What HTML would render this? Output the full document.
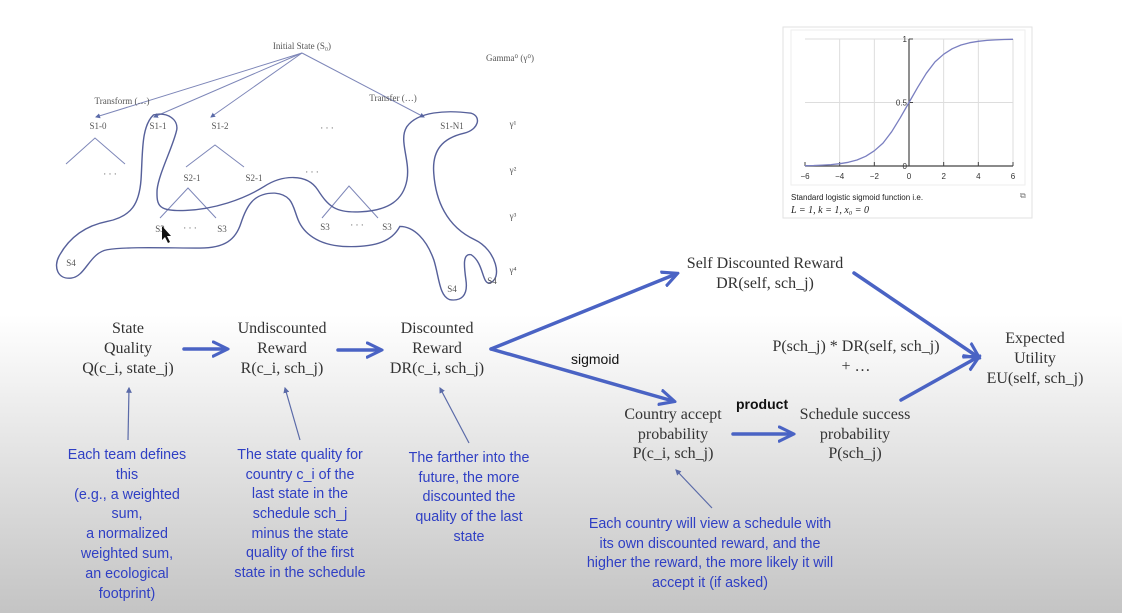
<!DOCTYPE html>
<html><head><meta charset="utf-8"><style>
html,body{margin:0;padding:0;width:1122px;height:613px;overflow:hidden}
body{background:linear-gradient(to bottom,#ffffff 0px,#ffffff 315px,#e4e4e4 450px,#c4c4c4 613px)}
svg{position:absolute;left:0;top:0}
.serif{font-family:"Liberation Serif",serif;fill:#333}
.blue{font-family:"Liberation Sans",sans-serif;fill:#2f3fc4;font-size:14.3px}
.tree{font-family:"Liberation Serif",serif;fill:#555;font-size:9px}
</style></head><body>
<svg width="1122" height="613" viewBox="0 0 1122 613">
<defs>
<marker id="ta" markerWidth="5" markerHeight="5" refX="4" refY="2.5" orient="auto"><path d="M0,0 L5,2.5 L0,5 Z" fill="#5a6aa8"/></marker>
<marker id="bh" markerWidth="5" markerHeight="5" refX="4" refY="2.5" orient="auto" markerUnits="strokeWidth"><path d="M0,0.3 L4.5,2.5 L0,4.7" fill="none" stroke="#4a63c4" stroke-width="0.9"/></marker>
</defs>

<g stroke="#7d86b8" stroke-width="1" fill="none">
<line x1="302" y1="53" x2="96" y2="117" marker-end="url(#ta)"/>
<line x1="302" y1="53" x2="154" y2="117" marker-end="url(#ta)"/>
<line x1="302" y1="53" x2="211" y2="117" marker-end="url(#ta)"/>
<line x1="302" y1="53" x2="424" y2="117" marker-end="url(#ta)"/>
<polyline points="66,164 95,138 125,164"/>
<polyline points="186,167 215,145 244,167"/>
<polyline points="160,218 188,188 216,218"/>
<polyline points="322,218 349,186 378,218"/>
<g transform="scale(0.357,0.333)" stroke="#56609a" stroke-width="4">
<path d="M430,345 C470,335 500,360 495,390 C485,440 445,520 440,570 C438,620 445,635 520,632 C600,628 680,600 740,560 C790,525 860,520 890,570 C920,620 940,640 1010,636 C1090,632 1130,600 1140,540 C1150,480 1115,420 1140,380 C1170,335 1250,330 1320,340 C1350,350 1340,390 1300,400 C1240,415 1210,450 1215,520 C1220,600 1250,680 1330,720 C1390,750 1410,840 1370,850 C1350,850 1355,790 1320,765 C1295,760 1300,800 1305,840 C1312,890 1290,905 1260,900 C1230,890 1230,830 1215,780 C1195,720 1160,680 1120,680 C1100,720 1060,745 960,740 C890,735 850,700 835,660 C820,620 820,585 770,580 C710,578 690,620 675,670 C660,720 630,745 560,745 C470,745 360,740 300,750 C250,760 240,830 200,835 C160,840 150,800 165,770 C190,720 230,680 300,665 C370,650 390,610 395,540 C400,460 395,380 430,345 Z"/>
</g>
</g>
<g>
<text class="tree" x="302" y="49" text-anchor="middle">Initial State (S₀)</text>
<text class="tree" x="510" y="61" text-anchor="middle" font-size="8.5">Gamma⁰ (γ⁰)</text>
<text class="tree" x="122" y="104" text-anchor="middle">Transform (…)</text>
<text class="tree" x="393" y="101" text-anchor="middle">Transfer (…)</text>
<text class="tree" x="98" y="129" text-anchor="middle">S1-0</text>
<text class="tree" x="158" y="129" text-anchor="middle">S1-1</text>
<text class="tree" x="220" y="129" text-anchor="middle">S1-2</text>
<text class="tree" x="327" y="131" text-anchor="middle">· · ·</text>
<text class="tree" x="452" y="129" text-anchor="middle">S1-N1</text>
<text class="tree" x="110" y="177" text-anchor="middle">· · ·</text>
<text class="tree" x="312" y="175" text-anchor="middle">· · ·</text>
<text class="tree" x="192" y="181" text-anchor="middle">S2-1</text>
<text class="tree" x="254" y="181" text-anchor="middle">S2-1</text>
<text class="tree" x="160" y="232" text-anchor="middle">S3</text>
<text class="tree" x="190" y="231" text-anchor="middle">· · ·</text>
<text class="tree" x="222" y="232" text-anchor="middle">S3</text>
<text class="tree" x="325" y="230" text-anchor="middle">S3</text>
<text class="tree" x="357" y="228" text-anchor="middle">· · ·</text>
<text class="tree" x="387" y="230" text-anchor="middle">S3</text>
<text class="tree" x="71" y="266" text-anchor="middle">S4</text>
<text class="tree" x="452" y="292" text-anchor="middle">S4</text>
<text class="tree" x="492" y="284" text-anchor="middle">S4</text>
<text class="tree" x="513" y="127" text-anchor="middle" fill="#34449a">γ¹</text>
<text class="tree" x="513" y="173" text-anchor="middle" fill="#34449a">γ²</text>
<text class="tree" x="513" y="219" text-anchor="middle" fill="#34449a">γ³</text>
<text class="tree" x="513" y="273" text-anchor="middle" fill="#34449a">γ⁴</text>
<path d="M162,226 L162,240 L165,237 L168,243 L170,242 L167,236 L171,236 Z" fill="#111"/>
</g>

<g>
<rect x="783" y="27" width="249" height="191" fill="#fff" stroke="#e2e2e2"/>
<rect x="791" y="30" width="234" height="155" fill="none" stroke="#eee"/>
<g id="sig"></g>
<text x="791" y="200" font-family="Liberation Sans,sans-serif" font-size="8" fill="#222">Standard logistic sigmoid function i.e.</text>
<text x="791" y="213" font-family="Liberation Serif,serif" font-size="10" font-style="italic" fill="#222">L = 1, k = 1, x₀ = 0</text>
<text x="1020" y="198" font-family="Liberation Sans,sans-serif" font-size="8" fill="#777">⧉</text>
</g>

<g>
<g class="serif" font-size="16" text-anchor="middle">
<text x="128" y="333">State</text>
<text x="128" y="353">Quality</text>
<text x="128" y="373">Q(c_i, state_j)</text>
<text x="282" y="333">Undiscounted</text>
<text x="282" y="353">Reward</text>
<text x="282" y="373">R(c_i, sch_j)</text>
<text x="437" y="333">Discounted</text>
<text x="437" y="353">Reward</text>
<text x="437" y="373">DR(c_i, sch_j)</text>
<text x="765" y="268">Self  Discounted Reward</text>
<text x="765" y="288">DR(self, sch_j)</text>
<text x="856" y="351">P(sch_j) * DR(self, sch_j)</text>
<text x="856" y="371">+ …</text>
<text x="1035" y="343">Expected</text>
<text x="1035" y="363">Utility</text>
<text x="1035" y="383">EU(self, sch_j)</text>
<text x="673" y="419">Country accept</text>
<text x="673" y="439">probability</text>
<text x="673" y="458">P(c_i, sch_j)</text>
<text x="855" y="419">Schedule success</text>
<text x="855" y="439">probability</text>
<text x="855" y="458">P(sch_j)</text>
</g>
<text x="571" y="364" font-family="Liberation Sans,sans-serif" font-size="14" fill="#111">sigmoid</text>
<text x="736" y="409" font-family="Liberation Sans,sans-serif" font-size="14" font-weight="bold" fill="#111">product</text>

<g stroke="#4a63c4" stroke-width="3.5" fill="none" stroke-linecap="round">
<line x1="184" y1="349" x2="226" y2="349" marker-end="url(#bh)"/>
<line x1="338" y1="350" x2="380" y2="350" marker-end="url(#bh)"/>
<line x1="491" y1="349" x2="673" y2="401" marker-end="url(#bh)"/>
<line x1="491" y1="349" x2="676" y2="274" marker-end="url(#bh)"/>
<line x1="854" y1="273" x2="978" y2="357" marker-end="url(#bh)"/>
<line x1="901" y1="400" x2="978" y2="357" marker-end="url(#bh)"/>
<line x1="733" y1="434" x2="792" y2="434" marker-end="url(#bh)"/>
</g>
<g stroke="#5a6aa8" stroke-width="1.2">
<line x1="128" y1="440" x2="129" y2="388" marker-end="url(#ta)"/>
<line x1="300" y1="440" x2="285" y2="388" marker-end="url(#ta)"/>
<line x1="469" y1="443" x2="440" y2="388" marker-end="url(#ta)"/>
<line x1="712" y1="508" x2="676" y2="470" marker-end="url(#ta)"/>
</g>
<g class="blue" text-anchor="middle">
<g>
<text x="127" y="459">Each team defines</text><text x="127" y="479">this</text><text x="127" y="499">(e.g., a weighted</text><text x="127" y="518">sum,</text><text x="127" y="538">a normalized</text><text x="127" y="558">weighted sum,</text><text x="127" y="578">an ecological</text><text x="127" y="598">footprint)</text>
</g>
<g>
<text x="300" y="459">The state quality for</text><text x="300" y="479">country c_i of the</text><text x="300" y="498">last state in the</text><text x="300" y="518">schedule sch_j</text><text x="300" y="538">minus the state</text><text x="300" y="557">quality of the first</text><text x="300" y="577">state in the schedule</text>
</g>
<g>
<text x="469" y="462">The farther into the</text><text x="469" y="482">future, the more</text><text x="469" y="501">discounted the</text><text x="469" y="521">quality of the last</text><text x="469" y="541">state</text>
</g>
<g>
<text x="710" y="528">Each country will view a schedule with</text><text x="710" y="548">its own discounted reward, and the</text><text x="710" y="567">higher the reward, the more likely it will</text><text x="710" y="587">accept it (if asked)</text>
</g>
</g>
</g>
</svg>
<script>
const xTicks=[-6,-4,-2,0,2,4,6];
const sigX=[-6,-5.5,-5,-4.5,-4,-3.5,-3,-2.5,-2,-1.5,-1,-0.5,0,0.5,1,1.5,2,2.5,3,3.5,4,4.5,5,5.5,6];
const sigY=[0.0025,0.004,0.0067,0.011,0.018,0.029,0.047,0.076,0.12,0.18,0.27,0.38,0.5,0.62,0.73,0.82,0.88,0.924,0.953,0.971,0.982,0.989,0.993,0.996,0.9975];
const yTicks=[0,0.5,1];
(function(){
const NS="http://www.w3.org/2000/svg";
const g=document.getElementById('sig');
const X=v=>805+(v+6)/12*208;
const Y=v=>166-v*127;
function el(t,a){const e=document.createElementNS(NS,t);for(const k in a)e.setAttribute(k,a[k]);g.appendChild(e);return e;}
xTicks.forEach(t=>{if(t!==0&&t!==-6){const l=el('line',{x1:X(t),x2:X(t),y1:Y(1),y2:Y(0),stroke:'#ddd'});

}});
yTicks.forEach(t=>{if(t>0){const l=el('line',{x1:X(-6),x2:X(6),y1:Y(t),y2:Y(t),stroke:'#ddd'});

}});
const xa=el('line',{x1:X(-6),x2:X(6),y1:Y(0),y2:Y(0),stroke:'#444','stroke-width':1.2});


const ya=el('line',{x1:X(0),x2:X(0),y1:Y(1),y2:Y(0),stroke:'#444','stroke-width':1.2});


xTicks.forEach(t=>{el('line',{x1:X(t),x2:X(t),y1:Y(0)-4,y2:Y(0),stroke:'#444'});
const tx=el('text',{x:X(t),y:179,'text-anchor':'middle','font-size':8,'font-family':'Liberation Sans,sans-serif',fill:'#333'});
tx.textContent=(t<0?'\u2212'+(-t):String(t));

});
yTicks.forEach(t=>{const tx=el('text',{x:X(0)-2,y:Y(t)+3,'text-anchor':'end','font-size':8,'font-family':'Liberation Sans,sans-serif',fill:'#333'});
tx.textContent=String(t);


el('line',{x1:X(0),x2:X(0)+4,y1:Y(t),y2:Y(t),stroke:'#444'});});
let d='';sigX.forEach((x,i)=>{d+=(i?' L':'M')+X(x).toFixed(1)+','+Y(sigY[i]).toFixed(1);});
const p=el('path',{d:d,fill:'none',stroke:'#7a7fc0','stroke-width':1.3,'stroke-linejoin':'round'});


})();
</script>
</body></html>
